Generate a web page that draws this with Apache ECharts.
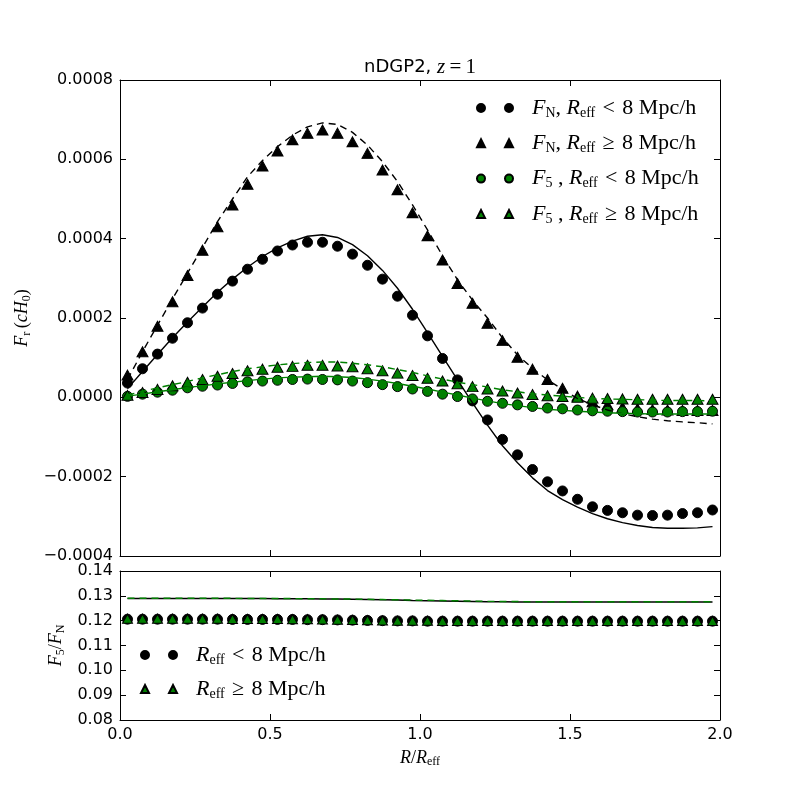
<!DOCTYPE html>
<html>
<head>
<meta charset="utf-8">
<script src="https://cdn.jsdelivr.net/npm/echarts@6/dist/echarts.min.js"></script>
<style>html,body{margin:0;padding:0;background:#fff}#c{width:800px;height:800px}</style>
</head>
<body>
<div id="c"></div>
<script>
// ---------- data ----------
var xs = [0.025,0.075,0.125,0.175,0.225,0.275,0.325,0.375,0.425,0.475,0.525,0.575,0.625,0.675,0.725,0.775,0.825,0.875,0.925,0.975,
          1.025,1.075,1.125,1.175,1.225,1.275,1.325,1.375,1.425,1.475,1.525,1.575,1.625,1.675,1.725,1.775,1.825,1.875,1.925,1.975];

// F_N, R_eff < 8 (black circles)
var fnSmall = [0.000036,0.000072,0.000109,0.000149,0.000188,0.000225,0.000260,0.000293,0.000323,0.000348,0.000369,0.000384,0.000391,0.000391,0.000381,0.000361,0.000333,0.000298,0.000255,0.000207,
               0.000155,0.000098,0.000044,-0.000009,-0.000057,-0.000106,-0.000145,-0.000182,-0.000213,-0.000236,-0.000257,-0.000276,-0.000285,-0.000291,-0.000297,-0.000298,-0.000297,-0.000293,-0.000291,-0.000284];
// F_N, R_eff >= 8 (black triangles)
var fnLarge = [0.000056,0.000115,0.000179,0.000241,0.000307,0.000371,0.000430,0.000485,0.000537,0.000583,0.000621,0.000649,0.000666,0.000674,0.000666,0.000644,0.000615,0.000573,0.000523,0.000465,
               0.000407,0.000346,0.000287,0.000237,0.000187,0.000143,0.000101,0.000071,0.000045,0.000023,0.000003,-0.000011,-0.000019,-0.000025,-0.000029,-0.000031,-0.000032,-0.000033,-0.000033,-0.000033];
// F_5, R_eff < 8 (green circles)
var f5Small = [0.0000025,0.0000080,0.000013,0.000018,0.000024,0.000028,0.000031,0.000035,0.000039,0.000041,0.000043,0.000045,0.000046,0.000045,0.000044,0.000041,0.000037,0.000032,0.000027,0.000021,
               0.000015,0.000008,0.000002,-0.000004,-0.000010,-0.000015,-0.000019,-0.000023,-0.000027,-0.000029,-0.000032,-0.000034,-0.000035,-0.000036,-0.000037,-0.000037,-0.000037,-0.000036,-0.000036,-0.000035];
// F_5, R_eff >= 8 (green triangles)
var f5Large = [0.000005,0.000012,0.000020,0.000029,0.000038,0.000045,0.000053,0.000060,0.000067,0.000071,0.000076,0.000078,0.000081,0.000081,0.000079,0.000077,0.000072,0.000067,0.000061,0.000055,
               0.000048,0.000041,0.000034,0.000027,0.000021,0.000016,0.000011,0.000007,0.000004,0.000002,0.000000,-0.000002,-0.000003,-0.000004,-0.000005,-0.000005,-0.000005,-0.000005,-0.000005,-0.000005];

// theory curves
var fnSmallTh = [0.000022,0.000065,0.000108,0.000150,0.000190,0.000228,0.000265,0.000298,0.000328,0.000355,0.000377,0.000394,0.000406,0.000410,0.000403,0.000385,0.000357,0.000320,0.000275,0.000222,
                 0.000163,0.000103,0.000044,-0.000014,-0.000070,-0.000122,-0.000165,-0.000203,-0.000235,-0.000258,-0.000277,-0.000293,-0.000306,-0.000316,-0.000323,-0.000328,-0.000330,-0.000330,-0.000329,-0.000326];
var fnLargeTh = [0.000045,0.000115,0.000182,0.000248,0.000313,0.000378,0.000443,0.000500,0.000556,0.000597,0.000632,0.000661,0.000682,0.000692,0.000688,0.000668,0.000636,0.000594,0.000544,0.000485,
                 0.000422,0.000357,0.000296,0.000245,0.000200,0.000150,0.000107,0.000073,0.000044,0.000020,-0.000003,-0.000019,-0.000032,-0.000041,-0.000049,-0.000055,-0.000059,-0.000062,-0.000064,-0.000067];
var f5SmallTh = [0.000003,0.000008,0.000014,0.000019,0.000025,0.000029,0.000034,0.000038,0.000042,0.000046,0.000049,0.000051,0.000052,0.000053,0.000052,0.000050,0.000046,0.000041,0.000035,0.000028,
                 0.000021,0.000013,0.000006,-0.000002,-0.000009,-0.000016,-0.000021,-0.000026,-0.000030,-0.000033,-0.000035,-0.000037,-0.000039,-0.000040,-0.000041,-0.000042,-0.000042,-0.000042,-0.000042,-0.000042];
var f5LargeTh = [0.000006,0.000015,0.000024,0.000032,0.000040,0.000049,0.000057,0.000065,0.000072,0.000077,0.000082,0.000085,0.000088,0.000089,0.000089,0.000086,0.000082,0.000077,0.000070,0.000063,
                 0.000054,0.000046,0.000038,0.000032,0.000026,0.000019,0.000014,0.000009,0.000006,0.000003,0.000000,-0.000003,-0.000004,-0.000005,-0.000006,-0.000007,-0.000008,-0.000008,-0.000008,-0.000009];

// ratio panel F5/FN
var ratioSmall = [0.1206,0.1206,0.1206,0.1206,0.1206,0.1206,0.1206,0.1205,0.1205,0.1205,0.1205,0.1205,0.1204,0.1204,0.1203,0.1202,0.1201,0.1200,0.1199,0.1199,
                  0.1198,0.1198,0.1198,0.1198,0.1198,0.1198,0.1198,0.1198,0.1198,0.1198,0.1198,0.1198,0.1198,0.1198,0.1198,0.1198,0.1198,0.1198,0.1198,0.1198];
var ratioLarge = [0.1208,0.1208,0.1208,0.1208,0.1208,0.1208,0.1208,0.1207,0.1207,0.1207,0.1207,0.1206,0.1206,0.1205,0.1204,0.1203,0.1202,0.1201,0.1200,0.1200,
                  0.1200,0.1199,0.1199,0.1199,0.1199,0.1199,0.1199,0.1199,0.1199,0.1199,0.1199,0.1199,0.1199,0.1199,0.1199,0.1199,0.1199,0.1199,0.1199,0.1199];
var ratioSmallTh = [0.1289,0.1289,0.1289,0.1289,0.1289,0.1289,0.1289,0.1289,0.1289,0.1289,0.1288,0.1288,0.1288,0.1287,0.1287,0.1286,0.1285,0.1284,0.1283,0.1281,
                    0.1280,0.1279,0.1278,0.1277,0.1276,0.1276,0.1275,0.1275,0.1275,0.1275,0.1275,0.1275,0.1275,0.1275,0.1275,0.1275,0.1275,0.1275,0.1275,0.1275];
var ratioLargeTh = [0.1290,0.1290,0.1290,0.1290,0.1290,0.1290,0.1290,0.1290,0.1289,0.1289,0.1289,0.1289,0.1288,0.1288,0.1287,0.1287,0.1286,0.1285,0.1284,0.1283,
                    0.1282,0.1281,0.1280,0.1279,0.1278,0.1277,0.1277,0.1276,0.1276,0.1276,0.1276,0.1276,0.1276,0.1276,0.1276,0.1276,0.1276,0.1276,0.1276,0.1276];

var xTicks = ['0.0','0.5','1.0','1.5','2.0'];
var legendTop = ['F_N, R_eff < 8 Mpc/h','F_N, R_eff \u2265 8 Mpc/h','F_5, R_eff < 8 Mpc/h','F_5, R_eff \u2265 8 Mpc/h'];
var legendBottom = ['R_eff < 8 Mpc/h','R_eff \u2265 8 Mpc/h'];

// ---------- helpers ----------
function pairs(ys){ return xs.map(function(x,i){ return [x, ys[i]]; }); }
var GREEN = '#008000';
var SERIF = 'Liberation Serif';
var SANS = 'DejaVu Sans';
var mathRich = {
  i: {fontFamily: SERIF, fontStyle: 'italic', fontSize: 22, color: '#000', lineHeight: 26},
  n: {fontFamily: SERIF, fontSize: 22, color: '#000', lineHeight: 26},
  s: {fontFamily: SERIF, fontSize: 14, color: '#000', lineHeight: 16, padding: [10,0,0,0]}
};
var REL_LT = '\u2004<\u2004';
var REL_GE = '\u2004\u2265\u2004';
var legendLabels = {};
legendLabels[legendTop[0]] = '{i|F}{s|N}{n|, }{i|R}{s|eff}{n|' + REL_LT + '8 Mpc/h}';
legendLabels[legendTop[1]] = '{i|F}{s|N}{n|, }{i|R}{s|eff}{n|' + REL_GE + '8 Mpc/h}';
legendLabels[legendTop[2]] = '{i|F}{s|5}{n| , }{i|R}{s|eff}{n|' + REL_LT + '8 Mpc/h}';
legendLabels[legendTop[3]] = '{i|F}{s|5}{n| , }{i|R}{s|eff}{n|' + REL_GE + '8 Mpc/h}';
legendLabels[legendBottom[0]] = '{i|R}{s|eff}{n|' + REL_LT + '8 Mpc/h}';
legendLabels[legendBottom[1]] = '{i|R}{s|eff}{n|' + REL_GE + '8 Mpc/h}';

var ICON_C = 'path://M0,4 A4,4 0 1,1 8,4 A4,4 0 1,1 0,4 Z M28,4 A4,4 0 1,1 36,4 A4,4 0 1,1 28,4 Z M50,0 M50,8';
var ICON_T = 'path://M4,0 L8,8 L0,8 Z M32,0 L36,8 L28,8 Z M50,0 M50,8';

function yFmt4(v){ if (Math.abs(v) < 1e-12) return '0.0000'; return (v<0?'\u2212':'') + Math.abs(v).toFixed(4); }
function yFmt2(v){ return v.toFixed(2); }

var axisLineStyle = {show: true, onZero: false, lineStyle: {color: '#000', width: 1}};
var tickIn = {show: true, inside: true, length: 6, lineStyle: {color: '#000', width: 1}};
var lblStyle = {fontFamily: SANS, fontSize: 16, color: '#000'};
var nameRich = {
  i: {fontFamily: SERIF, fontStyle: 'italic', fontSize: 18, color: '#000', lineHeight: 22},
  n: {fontFamily: SERIF, fontSize: 18, color: '#000', lineHeight: 22},
  s: {fontFamily: SERIF, fontSize: 12, color: '#000', lineHeight: 14, padding: [8,0,0,0]}
};

function xAx(grid, pos, showLabel, extra){
  var a = {type: 'value', gridIndex: grid, position: pos, min: 0, max: 2, interval: 0.5,
    axisLine: axisLineStyle, axisTick: tickIn, splitLine: {show: false},
    axisLabel: showLabel ? Object.assign({show: true, margin: 7, formatter: function(v){ return v.toFixed(1); }}, lblStyle) : {show: false}};
  return Object.assign(a, extra || {});
}
function yAx(grid, pos, showLabel, min, max, interval, fmt, extra){
  var a = {type: 'value', gridIndex: grid, position: pos, min: min, max: max, interval: interval,
    axisLine: axisLineStyle, axisTick: tickIn, splitLine: {show: false},
    axisLabel: showLabel ? Object.assign({show: true, margin: 7, formatter: fmt}, lblStyle) : {show: false}};
  return Object.assign(a, extra || {});
}

var option = {
  backgroundColor: '#fff',
  animation: false,
  grid: [
    {left: 120, top: 80, width: 600, height: 476},
    {left: 120, top: 571, width: 600, height: 149}
  ],
  xAxis: [
    xAx(0, 'bottom', false),
    xAx(0, 'top', false),
    xAx(1, 'bottom', true, {name: '{i|R}{n|/}{i|R}{s|eff}', nameLocation: 'middle', nameGap: 27, nameTextStyle: {rich: nameRich}}),
    xAx(1, 'top', false)
  ],
  yAxis: [
    yAx(0, 'left', true, -0.0004, 0.0008, 0.0002, yFmt4, {name: '{i|F}{s|r}{n|\u2009(}{i|cH}{s|0}{n|)}', nameLocation: 'middle', nameGap: 81, nameRotate: 90,
        nameTextStyle: {rich: nameRich}}),
    yAx(0, 'right', false, -0.0004, 0.0008, 0.0002, yFmt4),
    yAx(1, 'left', true, 0.08, 0.14, 0.01, yFmt2, {name: '{i|F}{s|5}{n|/}{i|F}{s|N}', nameLocation: 'middle', nameGap: 49, nameRotate: 90,
        nameTextStyle: {rich: nameRich}}),
    yAx(1, 'right', false, 0.08, 0.14, 0.01, yFmt2)
  ],
  legend: [
    {data: [
      {name: legendTop[0], icon: ICON_C}, {name: legendTop[1], icon: ICON_T},
      {name: legendTop[2], icon: ICON_C}, {name: legendTop[3], icon: ICON_T}],
     orient: 'vertical', left: 476, top: 96, padding: 0, itemWidth: 50, itemHeight: 8, itemGap: 11.3, selectedMode: false,
     formatter: function(n){ return legendLabels[n]; }, textStyle: {rich: mathRich}},
    {data: [{name: legendBottom[0], icon: ICON_C}, {name: legendBottom[1], icon: ICON_T}],
     orient: 'vertical', left: 140, top: 643, padding: 0, itemWidth: 50, itemHeight: 8, itemGap: 10, selectedMode: false,
     formatter: function(n){ return legendLabels[n]; }, textStyle: {rich: mathRich}}
  ],
  graphic: [
    {type: 'text', x: 420, y: 67, style: {
      text: '{a|nDGP2, }{i|z}{n|\u2009=\u20091}', align: 'center', verticalAlign: 'middle',
      rich: {
        a: {fontFamily: SANS, fontSize: 18, color: '#000'},
        i: {fontFamily: SERIF, fontStyle: 'italic', fontSize: 21, color: '#000'},
        n: {fontFamily: SERIF, fontSize: 21, color: '#000'}
      }}}
  ],
  series: [
    {name: legendTop[0], type: 'scatter', xAxisIndex: 0, yAxisIndex: 0, data: pairs(fnSmall), symbol: 'circle', symbolSize: 10,
     itemStyle: {color: '#000', borderColor: '#000', borderWidth: 1, opacity: 1}, z: 2},
    {name: legendTop[1], type: 'scatter', xAxisIndex: 0, yAxisIndex: 0, data: pairs(fnLarge), symbol: 'triangle', symbolSize: [11,10],
     itemStyle: {color: '#000', borderColor: '#000', borderWidth: 1, opacity: 1}, z: 2},
    {name: legendTop[2], type: 'scatter', xAxisIndex: 0, yAxisIndex: 0, data: pairs(f5Small), symbol: 'circle', symbolSize: 10,
     itemStyle: {color: GREEN, borderColor: '#000', borderWidth: 1, opacity: 1}, z: 2},
    {name: legendTop[3], type: 'scatter', xAxisIndex: 0, yAxisIndex: 0, data: pairs(f5Large), symbol: 'triangle', symbolSize: [11,10],
     itemStyle: {color: GREEN, borderColor: '#000', borderWidth: 1, opacity: 1}, z: 2},
    {name: 'th1', type: 'line', xAxisIndex: 0, yAxisIndex: 0, data: pairs(fnSmallTh), showSymbol: false, symbol: 'none',
     lineStyle: {color: '#000', width: 1.4}, z: 3},
    {name: 'th2', type: 'line', xAxisIndex: 0, yAxisIndex: 0, data: pairs(fnLargeTh), showSymbol: false, symbol: 'none',
     lineStyle: {color: '#000', width: 1.4, type: [7,5]}, z: 3},
    {name: 'th3', type: 'line', xAxisIndex: 0, yAxisIndex: 0, data: pairs(f5SmallTh), showSymbol: false, symbol: 'none',
     lineStyle: {color: GREEN, width: 1.4}, z: 3},
    {name: 'th4', type: 'line', xAxisIndex: 0, yAxisIndex: 0, data: pairs(f5LargeTh), showSymbol: false, symbol: 'none',
     lineStyle: {color: GREEN, width: 1.4, type: [7,5]}, z: 3},

    {name: legendBottom[0], type: 'scatter', xAxisIndex: 2, yAxisIndex: 2, data: pairs(ratioSmall), symbol: 'circle', symbolSize: 10,
     itemStyle: {color: '#000', borderColor: '#000', borderWidth: 1, opacity: 1}, z: 2},
    {name: legendBottom[1], type: 'scatter', xAxisIndex: 2, yAxisIndex: 2, data: pairs(ratioLarge), symbol: 'triangle', symbolSize: [10,9],
     itemStyle: {color: GREEN, borderColor: '#000', borderWidth: 1, opacity: 1}, z: 2},
    {name: 'rth1', type: 'line', xAxisIndex: 2, yAxisIndex: 2, data: pairs(ratioSmallTh), showSymbol: false, symbol: 'none',
     lineStyle: {color: '#000', width: 1.4}, z: 3},
    {name: 'rth2', type: 'line', xAxisIndex: 2, yAxisIndex: 2, data: pairs(ratioLargeTh), showSymbol: false, symbol: 'none',
     lineStyle: {color: GREEN, width: 1.4, type: [7,5]}, z: 3}
  ]
};
var chart = echarts.init(document.getElementById('c'), null, {renderer: 'canvas'});
chart.setOption(option);
</script>
</body>
</html>
